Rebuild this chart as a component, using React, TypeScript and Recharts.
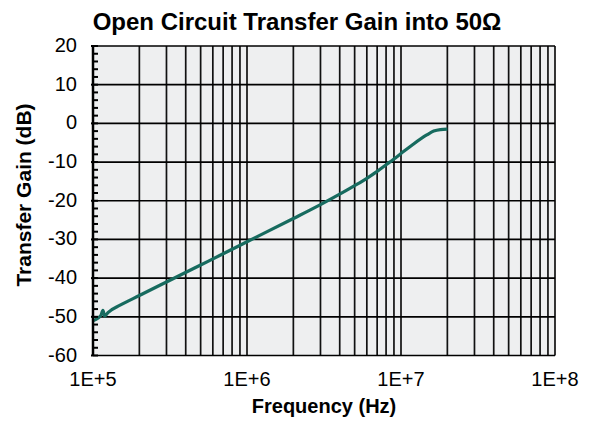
import React from "react";
import {
  LineChart,
  Line,
  XAxis,
  YAxis,
  ReferenceLine,
  ReferenceArea,
} from "recharts";

const frequencies = [
  1e5, 1.08e5, 1.13e5, 1.16e5, 1.19e5, 1.25e5, 1.5e5, 2e5, 3e5, 5e5, 7e5, 1e6,
  2e6, 3e6, 4e6, 5e6, 6e6, 7e6, 8e6, 9e6, 1e7, 1.2e7, 1.47e7, 1.63e7, 1.8e7,
  2e7,
];
const gains = [
  -51, -50.3, -49.5, -48.3, -49.8, -48.9, -47, -44.5, -41, -36.6, -33.7,
  -30.6, -24.6, -21, -18.3, -16.1, -14.2, -12.4, -10.7, -9.2, -7.8, -5.4, -3,
  -2, -1.6, -1.5,
];

const xTicks = [1e5, 1e6, 1e7, 1e8];
const xGridLines = [
  2e5, 3e5, 4e5, 5e5, 6e5, 7e5, 8e5, 9e5, 1e6, 2e6, 3e6, 4e6, 5e6, 6e6, 7e6,
  8e6, 9e6, 1e7, 2e7, 3e7, 4e7, 5e7, 6e7, 7e7, 8e7, 9e7, 1e8,
];
const yMajorTicks = [-60, -50, -40, -30, -20, -10, 0, 10, 20];
const yAllTicks = [
  -60, -58, -56, -54, -52, -50, -48, -46, -44, -42, -40, -38, -36, -34, -32,
  -30, -28, -26, -24, -22, -20, -18, -16, -14, -12, -10, -8, -6, -4, -2, 0, 2,
  4, 6, 8, 10, 12, 14, 16, 18, 20,
];

const data = frequencies.map((f, i) => ({ f, gain: gains[i] }));

const font = "'Liberation Sans', Arial, sans-serif";

function YTick(props: any) {
  const { x, y, payload } = props;
  const v = payload.value;
  const major = v % 10 === 0;
  return (
    <g>
      <line
        x1={major ? x - 2 : x}
        x2={x + 5}
        y1={y}
        y2={y}
        stroke="#000"
        strokeWidth={2}
      />
      {major && (
        <text
          x={x - 16}
          y={y}
          dy="0.3em"
          textAnchor="end"
          fontSize={20}
          fontFamily={font}
          fill="#000"
        >
          {v}
        </text>
      )}
    </g>
  );
}

export default function App() {
  return (
    <div style={{ position: "relative", width: 586, height: 413 }}>
      <LineChart
        width={586}
        height={413}
        data={data}
        margin={{ top: 38, right: 39, bottom: 0, left: 0 }}
      >
        <ReferenceArea
          x1={1e5}
          x2={1e8}
          y1={-60}
          y2={20}
          fill="#eeeff0"
          fillOpacity={1}
          stroke="none"
        />
        {xGridLines.map((g) => (
          <ReferenceLine key={"v" + g} x={g} stroke="#111" strokeWidth={1.7} />
        ))}
        {yMajorTicks.map((g) => (
          <ReferenceLine key={"h" + g} y={g} stroke="#000" strokeWidth={1.7} />
        ))}
        <XAxis
          dataKey="f"
          type="number"
          scale="log"
          domain={[1e5, 1e8]}
          ticks={xTicks}
          allowDataOverflow
          axisLine={false}
          tickLine={false}
          tickSize={0}
          tickMargin={16}
          height={65.5}
          tick={{ fill: "#000", fontSize: 20, fontFamily: font }}
          tickFormatter={(v: number) => "1E+" + Math.round(Math.log10(v))}
        />
        <YAxis
          type="number"
          domain={[-60, 20]}
          ticks={yAllTicks}
          interval={0}
          width={85}
          tickSize={0}
          tickMargin={0}
          axisLine={{ stroke: "#000", strokeWidth: 2.5 }}
          tick={<YTick />}
        />
        <Line
          type="monotone"
          dataKey="gain"
          stroke="#176b5f"
          strokeWidth={3.2}
          dot={false}
          isAnimationActive={false}
        />
      </LineChart>
      <svg
        width={586}
        height={413}
        style={{ position: "absolute", left: 0, top: 0, pointerEvents: "none" }}
        fontFamily={font}
        fontWeight="bold"
        fill="#000"
      >
        <text x={289} y={22} fontSize={24} textAnchor="middle">
          Open Circuit Transfer Gain into 50Ω
        </text>
        <text x={316} y={405} fontSize={20} textAnchor="middle">
          Frequency (Hz)
        </text>
        <text
          transform="translate(15,187) rotate(-90)"
          fontSize={21}
          textAnchor="middle"
          dominantBaseline="central"
        >
          Transfer Gain (dB)
        </text>
      </svg>
    </div>
  );
}
